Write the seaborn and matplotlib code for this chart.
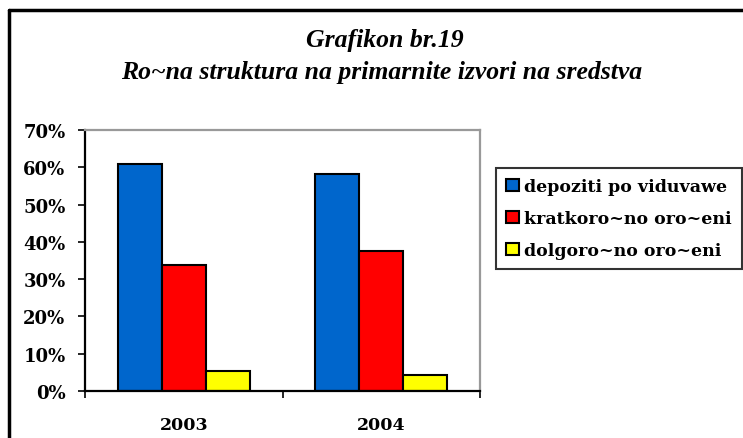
import pandas as pd
import matplotlib.pyplot as plt
import seaborn as sns
from matplotlib.lines import Line2D

# Data
years = ['2003', '2004']
series = ['depoziti po viduvawe', 'kratkoro~no oro~eni', 'dolgoro~no oro~eni']
depoziti = [61.0, 58.2]
kratkorocno = [33.8, 37.6]
dolgorocno = [5.3, 4.3]
colors = ['#0066CC', '#FF0000', '#FFFF00']

df = pd.DataFrame({
    'year': years * 3,
    'series': [series[0]] * 2 + [series[1]] * 2 + [series[2]] * 2,
    'value': depoziti + kratkorocno + dolgorocno,
})

sns.set_style('white')
plt.rcParams['font.family'] = ['DejaVu Serif']
plt.rcParams['text.color'] = 'black'
plt.rcParams['xtick.color'] = 'black'
plt.rcParams['ytick.color'] = 'black'

fig = plt.figure(figsize=(7.43, 4.39), dpi=100)
ax = fig.add_axes([85 / 743, 1 - 392 / 439, 395 / 743, 261 / 439])

sns.barplot(data=df, x='year', y='value', hue='series', palette=colors,
            saturation=1, width=0.67, gap=0, edgecolor='black', linewidth=1.5,
            legend=False, ax=ax)

ax.set_ylim(0, 70)
ax.set_xlim(-0.5, 1.5)
ax.set_yticks(range(0, 71, 10))
ax.set_yticklabels([f'{v}%' for v in range(0, 71, 10)], fontsize=13, fontweight='bold')
ax.set_xlabel('')
ax.set_ylabel('')
ax.set_xticks([0, 1])
ax.set_xticklabels(years, fontsize=12.5, fontweight='bold')
ax.tick_params(axis='x', length=0, pad=18)
ax.tick_params(axis='y', length=5, width=1.2, direction='out', left=True, pad=9)
# category separator ticks on x-axis
ax.set_xticks([-0.5, 0.5, 1.5], minor=True)
ax.tick_params(axis='x', which='minor', length=5, width=1.2, direction='out', bottom=True)

for side in ['left', 'bottom']:
    ax.spines[side].set_color('black')
    ax.spines[side].set_linewidth(1.6)
for side in ['top', 'right']:
    ax.spines[side].set_visible(True)
    ax.spines[side].set_color('#999999')
    ax.spines[side].set_linewidth(1.6)

# Title
fig.text(385 / 743, 1 - 40 / 439, 'Grafikon br.19', ha='center', va='center',
         family='Liberation Serif', fontsize=18.5, fontweight='bold', style='italic')
fig.text(382 / 743, 1 - 72 / 439, 'Ro~na struktura na primarnite izvori na sredstva',
         ha='center', va='center', family='Liberation Serif', fontsize=18.5,
         fontweight='bold', style='italic')

# Legend
handles = [plt.Rectangle((0, 0), 1, 1, facecolor=c, edgecolor='black', linewidth=1.5)
           for c in colors]
leg = fig.legend(handles, series, loc='upper left',
                 bbox_to_anchor=(496 / 743, 1 - 169 / 439),
                 prop={'family': 'DejaVu Serif', 'weight': 'bold', 'size': 12.5},
                 frameon=True, fancybox=False, edgecolor='black',
                 handlelength=0.7, handleheight=0.7, handletextpad=0.3,
                 labelspacing=0.85, borderpad=0.6, borderaxespad=0)
leg.get_frame().set_linewidth(1.5)

# Outer chart frame
fig.add_artist(Line2D([9 / 743, 9 / 743], [0, 1 - 11 / 439], color='black', lw=2.5,
                      transform=fig.transFigure))
fig.add_artist(Line2D([9 / 743, 1.01], [1 - 11 / 439, 1 - 11 / 439], color='black', lw=2.5,
                      transform=fig.transFigure))

fig.savefig('out.png', dpi=100)
